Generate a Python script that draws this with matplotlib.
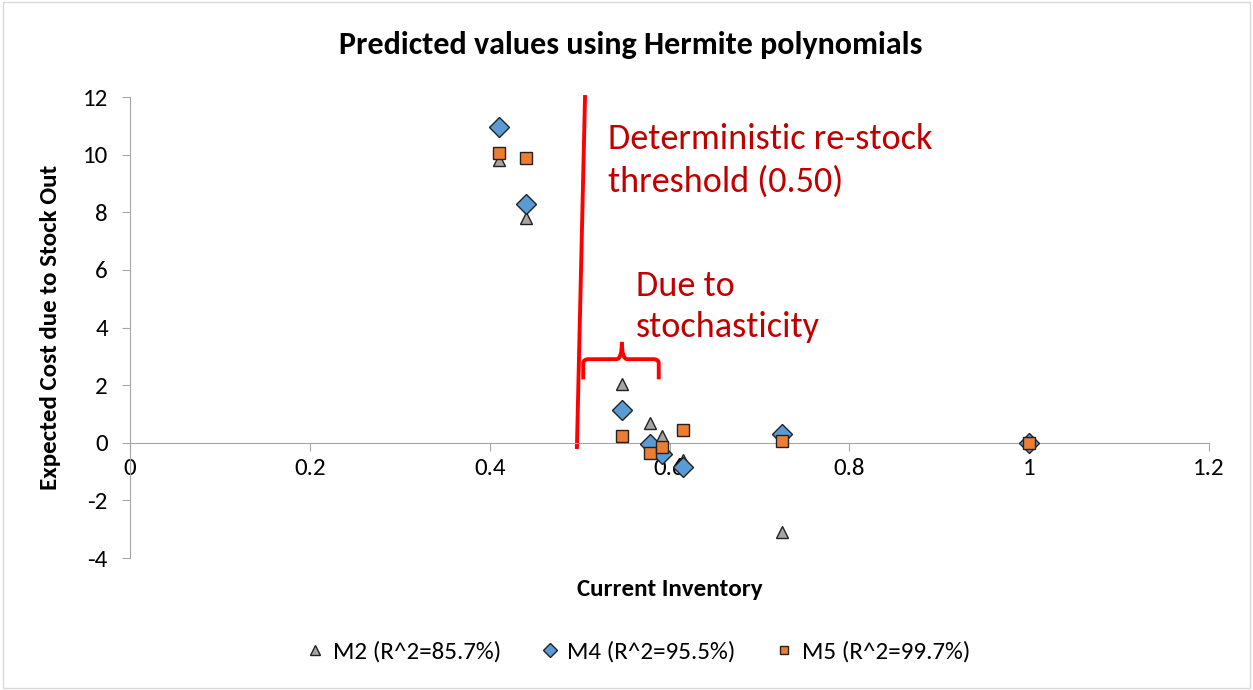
#!/usr/bin/env python3

import matplotlib.pyplot as plt
from matplotlib.path import Path
from matplotlib.patches import PathPatch, Rectangle

plt.rcParams['font.family'] = ['Carlito', 'Lato', 'DejaVu Sans']
plt.rcParams['axes.unicode_minus'] = False

#================ Data =====================
inventory = [0.41, 0.44, 0.547, 0.578, 0.592, 0.615, 0.725, 1.0]
m2_values = [9.8, 7.8, 2.05, 0.7, 0.25, -0.6, -3.1, 0.1]
m4_values = [10.95, 8.3, 1.15, -0.05, -0.4, -0.85, 0.3, 0.0]
m5_values = [10.05, 9.9, 0.25, -0.35, -0.15, 0.45, 0.05, 0.0]

x_ticks = [0, 0.2, 0.4, 0.6, 0.8, 1.0, 1.2]
x_tick_labels = ['0', '0.2', '0.4', '0.6', '0.8', '1', '1.2']
y_ticks = [-4, -2, 0, 2, 4, 6, 8, 10, 12]

# annotation geometry (data coords)
threshold_line = ([0.506, 0.497], [12.0, -0.15])
bracket_left, bracket_right, bracket_mid = 0.504, 0.588, 0.547

dark_red = '#C00000'

#================ Figure =====================
fig = plt.figure(figsize=(12.53, 6.9), dpi=100)
ax = fig.add_axes([0.1038, 0.1913, 0.8611, 0.6681])

ax.plot(inventory, m2_values, linestyle='none', marker='^', markersize=9,
        markerfacecolor='#A5A5A5', markeredgecolor='#222222', markeredgewidth=1,
        label='M2 (R^2=85.7%)', zorder=3)
ax.plot(inventory, m4_values, linestyle='none', marker='D', markersize=10,
        markerfacecolor='#5B9BD5', markeredgecolor='#222222', markeredgewidth=1,
        label='M4 (R^2=95.5%)', zorder=4)
ax.plot(inventory, m5_values, linestyle='none', marker='s', markersize=8,
        markerfacecolor='#ED7D31', markeredgecolor='#222222', markeredgewidth=1,
        label='M5 (R^2=99.7%)', zorder=5)

ax.set_xlim(0, 1.2)
ax.set_ylim(-4, 12)
ax.set_xticks(x_ticks)
ax.set_xticklabels(x_tick_labels)
ax.set_yticks(y_ticks)

# Excel-like axes: y axis at x=0, x axis at y=0
for side in ['top', 'right']:
    ax.spines[side].set_visible(False)
ax.spines['bottom'].set_position(('data', 0))
ax.spines['bottom'].set_color('#A6A6A6')
ax.spines['left'].set_color('#A6A6A6')
ax.tick_params(axis='both', colors='#A6A6A6', labelcolor='black',
               labelsize=18, length=6, direction='out')
ax.tick_params(axis='x', pad=5)
ax.tick_params(axis='y', pad=10)

fig.text(0.5036, 0.935, 'Predicted values using Hermite polynomials',
         fontsize=23, fontweight='bold', ha='center', va='center')
ax.set_xlabel('Current Inventory', fontsize=18, fontweight='bold')
ax.set_ylabel('Expected Cost due to Stock Out', fontsize=18, fontweight='bold')
ax.xaxis.set_label_coords(0.5, -0.045)
ax.yaxis.set_label_coords(-0.064, 0.5)

# Threshold annotation
ax.plot(threshold_line[0], threshold_line[1], color='red', linewidth=2.8,
        zorder=2, clip_on=False)
ax.text(0.531, 9.8, 'Deterministic re-stock\nthreshold (0.50)', fontsize=26,
        color=dark_red, va='center', ha='left', linespacing=1.38)

# Curly bracket, drawn as two mirrored halves
r = 0.006
path_left = Path([(bracket_left, 2.2), (bracket_left, 2.75),
                  (bracket_left, 2.9), (bracket_left + r, 2.9),
                  (bracket_mid - r, 2.9), (bracket_mid, 2.9),
                  (bracket_mid, 3.5)],
                 [Path.MOVETO, Path.LINETO, Path.CURVE3, Path.CURVE3,
                  Path.LINETO, Path.CURVE3, Path.CURVE3])
path_right = Path([(bracket_right, 2.2), (bracket_right, 2.75),
                   (bracket_right, 2.9), (bracket_right - r, 2.9),
                   (bracket_mid + r, 2.9), (bracket_mid, 2.9),
                   (bracket_mid, 3.5)],
                  [Path.MOVETO, Path.LINETO, Path.CURVE3, Path.CURVE3,
                   Path.LINETO, Path.CURVE3, Path.CURVE3])
for p in (path_left, path_right):
    ax.add_patch(PathPatch(p, facecolor='none', edgecolor='red', linewidth=2.8,
                           zorder=2))
ax.text(0.563, 4.73, 'Due to\nstochasticity', fontsize=26, color=dark_red,
        va='center', ha='left', linespacing=1.32)

# Legend below plot
fig.legend(loc='center', bbox_to_anchor=(0.507, 0.055), ncol=3, frameon=False,
           fontsize=18, handletextpad=0.1, columnspacing=1.35, markerscale=0.75,
           handlelength=1.2)

# Chart area border
fig.add_artist(Rectangle((0.002, 0.003), 0.996, 0.994, transform=fig.transFigure,
                         facecolor='none', edgecolor='#D9D9D9', linewidth=1))

fig.savefig('out.png', dpi=100)
